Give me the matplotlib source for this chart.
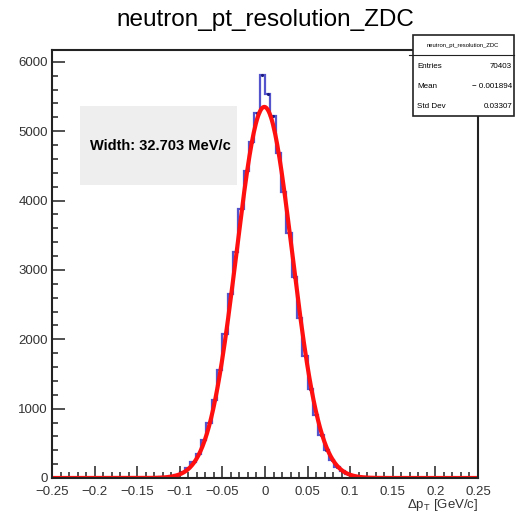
import numpy as np
import matplotlib
matplotlib.use('Agg')
import matplotlib.pyplot as plt
from matplotlib.patches import Rectangle
from matplotlib.ticker import MultipleLocator

plt.rcParams['font.family'] = ['Liberation Sans', 'DejaVu Sans']
plt.rcParams['mathtext.fontset'] = 'custom'
plt.rcParams['mathtext.rm'] = 'Liberation Sans'
plt.rcParams['mathtext.it'] = 'Liberation Sans:italic'

W, H = 516, 518

# histogram, 80 bins from -0.25 to 0.25
bin_lo, bin_hi, nbins = -0.25, 0.25, 80
counts = [0, 0, 0, 0, 0, 0, 0, 0, 0, 0,
          0, 0, 0, 0, 0, 0, 1, 2, 3, 5,
          9, 16, 28, 50, 85, 140, 225, 350, 545, 800,
          1130, 1560, 2080, 2650, 3260, 3880, 4420, 4850, 5260, 5815,
          5530, 5220, 4690, 4130, 3530, 2900, 2310, 1760, 1290, 910,
          620, 410, 265, 160, 95, 55, 30, 17, 9, 5,
          3, 2, 1, 0, 0, 0, 0, 0, 0, 0,
          0, 0, 0, 0, 0, 0, 0, 0, 0, 0]

# gaussian fit (parameters)
fit_amp = 5350
fit_mean = -0.0008
fit_sigma = 0.0327

title = 'neutron_pt_resolution_ZDC'
width_label = 'Width: 32.703 MeV/c'
stats_names = ['Entries', 'Mean', 'Std Dev']
stats_values = ['70403', '\u2212 0.001894', '0.03307']

edges = np.linspace(bin_lo, bin_hi, nbins + 1)
centers = 0.5 * (edges[:-1] + edges[1:])

fig = plt.figure(figsize=(W / 100, H / 100), dpi=100)
ax = fig.add_axes([52 / W, 1 - 478 / H, 426 / W, 428 / H])

ax.stairs(counts, edges, color='#5454cc', lw=1.6)
ax.plot(centers, counts, '.', ms=2.5, color='#1a1a80')

xf = np.linspace(bin_lo, bin_hi, 400)
yf = fit_amp * np.exp(-0.5 * ((xf - fit_mean) / fit_sigma) ** 2)
ax.plot(xf, yf, color='#ff1010', lw=3)

ax.set_xlim(bin_lo, bin_hi)
ax.set_ylim(0, 6170)
ax.xaxis.set_minor_locator(MultipleLocator(0.01))
ax.yaxis.set_major_locator(MultipleLocator(1000))
ax.yaxis.set_minor_locator(MultipleLocator(200))
ax.set_xticks(np.arange(-0.25, 0.2501, 0.05))
ax.set_xticklabels(['\u22120.25', '\u22120.2', '\u22120.15', '\u22120.1', '\u22120.05',
                    '0', '0.05', '0.1', '0.15', '0.2', '0.25'])
ax.tick_params(which='both', direction='in', top=False, right=False,
               labelsize=9.5, colors='#333333', width=1.2)
ax.tick_params(which='major', length=9)
ax.tick_params(axis='x', which='major', pad=6)
ax.tick_params(axis='y', which='major', pad=3)
ax.tick_params(which='minor', length=4.5)
for s in ax.spines.values():
    s.set_linewidth(1.5)
    s.set_color('#222222')

ax.set_xlabel(r'$\Delta$p$_\mathrm{T}$ [GeV/c]', loc='right', fontsize=9.5,
              color='#333333', labelpad=-1)

fig.text(265 / W, 1 - 26 / H, title, ha='center', va='baseline', fontsize=17.5)

# width box
ax_px = fig.transFigure
fig.patches.append(Rectangle((80 / W, 1 - 185 / H), 157 / W, 79 / H,
                             transform=ax_px, facecolor='#eeeeee', edgecolor='none'))
fig.text(160 / W, 1 - 146 / H, width_label, ha='center', va='center',
         fontsize=10.5, fontweight='bold')

# stats box
fig.patches.append(Rectangle((413 / W, 1 - 116 / H), 101 / W, 81 / H, transform=ax_px,
                             facecolor='white', edgecolor='#222222', lw=1.2, zorder=5))
fig.lines.append(plt.Line2D([409 / W, 514 / W], [1 - 55 / H, 1 - 55 / H],
                            transform=ax_px, color='#222222', lw=0.8, zorder=6))
fig.text(463 / W, 1 - 46 / H, title, ha='center', va='center', fontsize=4.2, zorder=7)
rows_y = [66, 86, 106]
for name, val, yy in zip(stats_names, stats_values, rows_y):
    fig.text(417 / W, 1 - yy / H, name, ha='left', va='center', fontsize=5.8, zorder=7)
    fig.text(512 / W, 1 - yy / H, val, ha='right', va='center', fontsize=5.8, zorder=7)

fig.savefig('out.png', dpi=100)
